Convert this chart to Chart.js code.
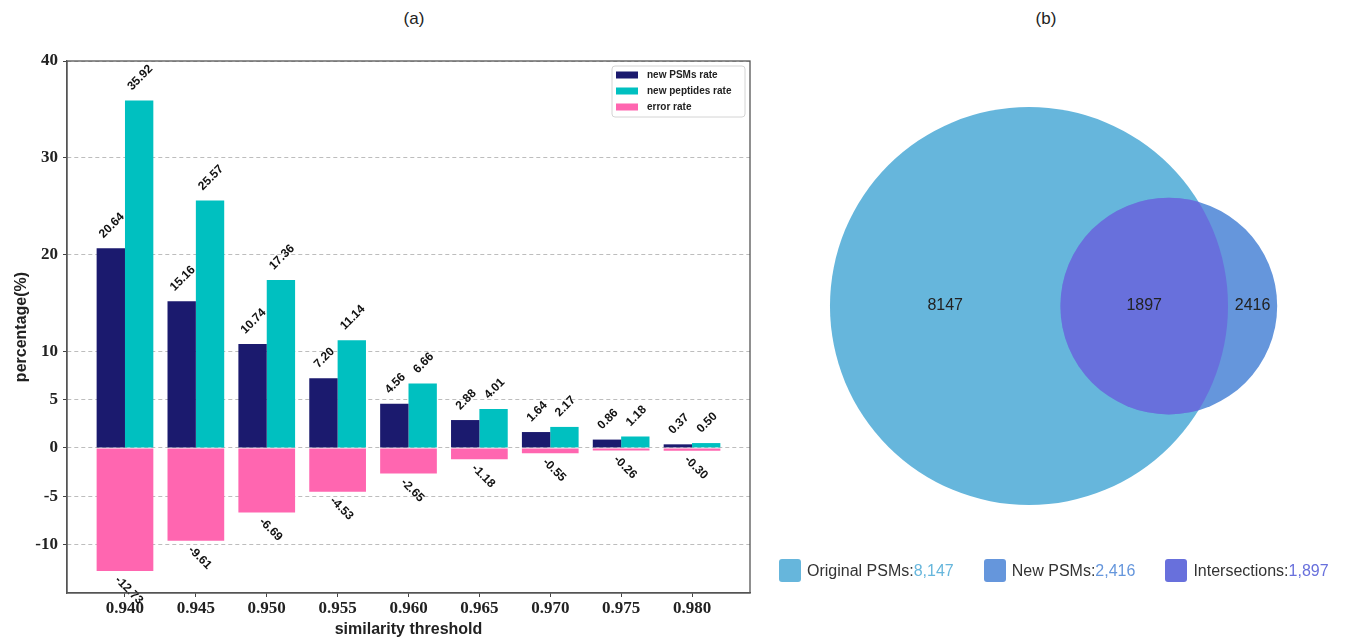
<!DOCTYPE html>
<html>
<head>
<meta charset="utf-8">
<title>PSM rates and overlap</title>
<script src="https://cdn.jsdelivr.net/npm/chart.js@4.4.1/dist/chart.umd.min.js"></script>
<style>
  html, body { margin: 0; padding: 0; background: #fff; }
  body { width: 1345px; height: 643px; position: relative; overflow: hidden;
         font-family: "Liberation Sans", Arial, sans-serif; }
  .panel-title { position: absolute; top: 9px; font-size: 17px; color: #222; transform: translateX(-50%); }
  #barWrap { position: absolute; left: 0; top: 0; width: 770px; height: 643px; }
  #vennWrap { position: absolute; left: 770px; top: 0; width: 575px; height: 643px; }
  #vennLegend { position: absolute; left: 779px; top: 559px; display: flex; gap: 30px; }
  .vl-item { display: flex; align-items: center; font-size: 16px; color: #333; }
  .vl-swatch { width: 22px; height: 23px; border-radius: 3px; margin-right: 6px; }
</style>
</head>
<body>
<div class="panel-title" style="left:414px">(a)</div>
<div class="panel-title" style="left:1046px">(b)</div>
<div id="barWrap"><canvas id="barChart"></canvas></div>
<div id="vennWrap"><canvas id="vennChart"></canvas></div>
<div id="vennLegend"></div>

<script>
// similarity thresholds and the three rates (%)
const thresholds = [0.940, 0.945, 0.950, 0.955, 0.960, 0.965, 0.970, 0.975, 0.980];
const newPsmRate = [20.64, 15.16, 10.74, 7.20, 4.56, 2.88, 1.64, 0.86, 0.37];
const newPeptideRate = [35.92, 25.57, 17.36, 11.14, 6.66, 4.01, 2.17, 1.18, 0.50];
const errorRate = [-12.73, -9.61, -6.69, -4.53, -2.65, -1.18, -0.55, -0.26, -0.30];
const yTicks = [-10, -5, 0, 5, 10, 20, 30, 40];

// venn: original PSMs, new PSMs, shared
const vennLabels = ['Original PSMs', 'New PSMs', 'Intersections'];
const vennCounts = [8147, 2416, 1897];
const vennColors = ['#66b6dc', '#6596dc', '#6870dc'];

const SANS = '"Liberation Sans", Arial, sans-serif';
const SERIF = '"Liberation Serif", "Times New Roman", serif';

const toPoints = vals => vals.map((v, i) => ({ x: thresholds[i], y: v }));

// value labels written diagonally above / below each bar
const barValueLabels = {
    id: 'barValueLabels',
    afterDatasetsDraw(chart) {
        const { ctx } = chart;
        ctx.save();
        ctx.font = 'bold 12px ' + SANS;
        ctx.fillStyle = '#111';
        ctx.textAlign = 'center';
        ctx.textBaseline = 'middle';
        chart.data.datasets.forEach((ds, di) => {
            chart.getDatasetMeta(di).data.forEach((bar, i) => {
                const v = ds.data[i].y;
                const text = v.toFixed(2);
                const half = (ctx.measureText(text).width + 9) * Math.SQRT1_2 / 2;
                ctx.save();
                if (v >= 0) {
                    ctx.translate(bar.x + 1, bar.y - 9 - half);
                    ctx.rotate(-Math.PI / 4);
                } else {
                    ctx.translate(bar.x + 4, bar.y + 4 + half);
                    ctx.rotate(Math.PI / 4);
                }
                ctx.fillText(text, 0, 0);
                ctx.restore();
            });
        });
        ctx.restore();
    }
};

// closed frame round the plot + legend box in the upper right corner
const frameAndLegend = {
    id: 'frameAndLegend',
    afterDraw(chart) {
        const { ctx, chartArea: a } = chart;
        ctx.save();
        ctx.strokeStyle = '#555';
        ctx.lineWidth = 1.3;
        ctx.strokeRect(a.left, a.top, a.right - a.left, a.bottom - a.top);

        const w = 133, h = 51;
        const x = a.right - 5 - w, y = a.top + 5;
        ctx.beginPath();
        ctx.roundRect(x, y, w, h, 3);
        ctx.fillStyle = 'rgba(255,255,255,0.85)';
        ctx.fill();
        ctx.strokeStyle = '#d4d4d4';
        ctx.lineWidth = 1;
        ctx.stroke();

        ctx.font = 'bold 10px ' + SANS;
        ctx.textBaseline = 'middle';
        chart.data.datasets.forEach((ds, i) => {
            const cy = y + 9 + i * 16;
            ctx.fillStyle = ds.backgroundColor;
            ctx.fillRect(x + 4, cy - 3.5, 22, 7);
            ctx.fillStyle = '#222';
            ctx.fillText(ds.label, x + 35, cy);
        });
        ctx.restore();
    }
};

new Chart(document.getElementById('barChart'), {
    type: 'bar',
    data: {
        datasets: [
            { label: 'new PSMs rate', data: toPoints(newPsmRate), backgroundColor: '#1b1a6e' },
            { label: 'new peptides rate', data: toPoints(newPeptideRate), backgroundColor: '#00c0c0' },
            { label: 'error rate', data: toPoints(errorRate), backgroundColor: '#ff66b0', grouped: false }
        ]
    },
    options: {
        responsive: true,
        maintainAspectRatio: false,
        animation: false,
        layout: { padding: { top: 61, right: 20, left: 0, bottom: 0 } },
        datasets: { bar: { categoryPercentage: 0.8, barPercentage: 1.0, borderWidth: 0 } },
        plugins: { legend: { display: false }, tooltip: { enabled: false } },
        scales: {
            x: {
                type: 'linear',
                min: 0.93591,
                max: 0.98409,
                offset: false,
                afterBuildTicks: s => { s.ticks = thresholds.map(v => ({ value: v })); },
                afterFit: s => { s.height = 50; },
                ticks: {
                    callback: v => v.toFixed(3),
                    font: { family: SERIF, size: 17, weight: 'bold' },
                    color: '#222',
                    padding: 1,
                    maxRotation: 0
                },
                grid: { offset: false, drawOnChartArea: false, drawTicks: true, tickLength: 4, tickColor: '#444' },
                border: { display: true, color: '#555', width: 1.3 },
                title: {
                    display: true,
                    text: 'similarity threshold',
                    font: { family: SANS, size: 16, weight: 'bold' },
                    color: '#222',
                    padding: { top: 0, bottom: 4 }
                }
            },
            y: {
                min: -15,
                max: 40,
                afterBuildTicks: s => { s.ticks = yTicks.map(v => ({ value: v })); },
                afterFit: s => { s.width = 67; },
                ticks: {
                    font: { family: SERIF, size: 17, weight: 'bold' },
                    color: '#222',
                    padding: 5
                },
                grid: { color: '#bdbdbd', lineWidth: 1, tickLength: 4, tickColor: '#444', tickBorderDash: [] },
                border: { display: true, color: '#555', width: 1.3, dash: [4, 3] },
                title: {
                    display: true,
                    text: 'percentage(%)',
                    font: { family: SANS, size: 16, weight: 'bold' },
                    color: '#222',
                    padding: { top: 12, bottom: 0 }
                }
            }
        }
    },
    plugins: [barValueLabels, frameAndLegend]
});

// ---- venn diagram: circle areas follow the counts, overlap area matches the shared count ----
function lensArea(r1, r2, d) {
    if (d >= r1 + r2) return 0;
    if (d <= Math.abs(r1 - r2)) return Math.PI * Math.min(r1, r2) ** 2;
    const a1 = Math.acos((d * d + r1 * r1 - r2 * r2) / (2 * d * r1));
    const a2 = Math.acos((d * d + r2 * r2 - r1 * r1) / (2 * d * r2));
    const k = Math.sqrt((-d + r1 + r2) * (d + r1 - r2) * (d - r1 + r2) * (d + r1 + r2));
    return r1 * r1 * a1 + r2 * r2 * a2 - k / 2;
}

function centreDistance(r1, r2, area) {
    let lo = Math.abs(r1 - r2), hi = r1 + r2;
    for (let i = 0; i < 80; i++) {
        const mid = (lo + hi) / 2;
        if (lensArea(r1, r2, mid) > area) lo = mid; else hi = mid;
    }
    return (lo + hi) / 2;
}

const circleRadius = i => Math.sqrt(vennCounts[i] / Math.PI);
const gap = centreDistance(circleRadius(0), circleRadius(1), vennCounts[2]);

// axis ranges of the venn plane (same units per pixel on both axes)
const VX = [-66.27, 80.86];
const VY = [-86.23, 78.30];

const vennOverlay = {
    id: 'vennOverlay',
    afterDatasetsDraw(chart) {
        const { ctx } = chart;
        const [big, small] = chart.getDatasetMeta(0).data;
        const rb = big.options.radius, rs = small.options.radius;
        ctx.save();
        ctx.beginPath();
        ctx.arc(big.x, big.y, rb, 0, Math.PI * 2);
        ctx.clip();
        ctx.beginPath();
        ctx.arc(small.x, small.y, rs, 0, Math.PI * 2);
        ctx.fillStyle = vennColors[2];
        ctx.fill();
        ctx.restore();

        ctx.save();
        ctx.font = '16px ' + SANS;
        ctx.fillStyle = '#222';
        ctx.textAlign = 'center';
        ctx.textBaseline = 'middle';
        const leftOnly = ((big.x - rb) + (small.x - rs)) / 2;
        const shared = ((small.x - rs) + (big.x + rb)) / 2;
        const rightOnly = ((big.x + rb) + (small.x + rs)) / 2;
        ctx.fillText(String(vennCounts[0]), leftOnly, big.y);
        ctx.fillText(String(vennCounts[2]), shared, big.y);
        ctx.fillText(String(vennCounts[1]), rightOnly, big.y);
        ctx.restore();
    }
};

new Chart(document.getElementById('vennChart'), {
    type: 'bubble',
    data: {
        datasets: [{
            data: [{ x: 0, y: 0 }, { x: gap, y: 0 }],
            backgroundColor: [vennColors[0], vennColors[1]],
            borderWidth: 0,
            clip: false,
            // radius in pixels: chart area fills the canvas, so px per unit = width / x range
            radius: c => {
                if (c.dataIndex === undefined) return 0;
                return circleRadius(c.dataIndex) * c.chart.width / (VX[1] - VX[0]);
            }
        }]
    },
    options: {
        responsive: true,
        maintainAspectRatio: false,
        animation: false,
        layout: { padding: 0, autoPadding: false },
        plugins: { legend: { display: false }, tooltip: { enabled: false } },
        scales: {
            x: { display: false, min: VX[0], max: VX[1] },
            y: { display: false, min: VY[0], max: VY[1] }
        }
    },
    plugins: [vennOverlay]
});

// venn legend: swatch, label and coloured count
const legendEl = document.getElementById('vennLegend');
vennLabels.forEach((name, i) => {
    const item = document.createElement('div');
    item.className = 'vl-item';
    item.innerHTML = `<span class="vl-swatch" style="background:${vennColors[i]}"></span>${name}:<span style="color:${vennColors[i]}">${vennCounts[i].toLocaleString('en-US')}</span>`;
    legendEl.appendChild(item);
});
</script>
</body>
</html>
